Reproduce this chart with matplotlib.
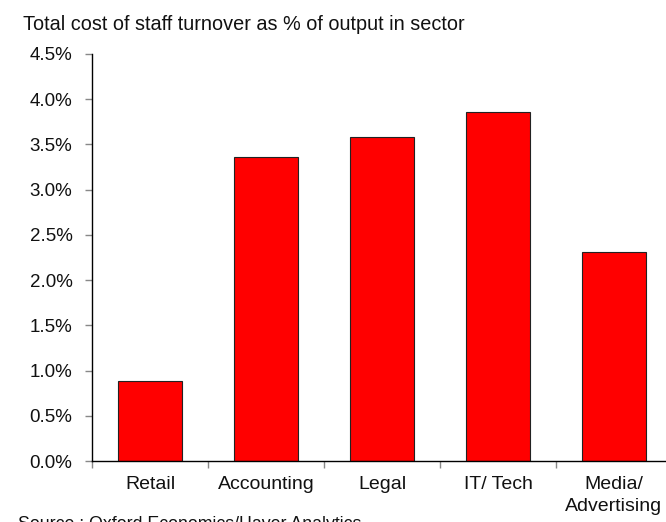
import matplotlib
matplotlib.use("Agg")
import matplotlib.pyplot as plt
import numpy as np
from matplotlib.ticker import FixedLocator, FuncFormatter

plt.rcParams["font.family"] = ["Liberation Sans", "DejaVu Sans"]

# Sector data: cost of staff turnover as % of sector output
sectors = ["Retail", "Accounting", "Legal", "IT/ Tech", "Media/\nAdvertising"]
turnover_cost_pct = [0.88, 3.36, 3.58, 3.86, 2.31]
y_ticks = [0.0, 0.5, 1.0, 1.5, 2.0, 2.5, 3.0, 3.5, 4.0, 4.5]

W, H = 666, 522
fig = plt.figure(figsize=(W / 100, H / 100), dpi=100)
ax = fig.add_axes([92 / W, 61 / H, 580 / W, 407 / H])

x = np.arange(len(sectors))
ax.bar(x, turnover_cost_pct, width=0.56, color="#ff0000",
       edgecolor="#222222", linewidth=0.8, zorder=2)

ax.set_xlim(-0.5, len(sectors) - 0.5)
ax.set_ylim(0, 4.5)

ax.yaxis.set_major_locator(FixedLocator(y_ticks))
ax.yaxis.set_major_formatter(FuncFormatter(lambda v, _: f"{v:.1f}%"))

ax.set_xticks(x)
ax.set_xticklabels(sectors, linespacing=1.35)
ax.set_xticks(np.arange(-0.5, len(sectors) + 0.5, 1.0), minor=True)

ax.tick_params(axis="y", which="major", length=5, width=1, color="#888888",
               pad=9, labelsize=13.5, labelcolor="#111111")
ax.tick_params(axis="x", which="major", length=0, pad=11,
               labelsize=14, labelcolor="#111111")
ax.tick_params(axis="x", which="minor", length=5, width=1, color="#888888")

for side in ("top", "right"):
    ax.spines[side].set_visible(False)
for side in ("left", "bottom"):
    ax.spines[side].set_color("#000000")
    ax.spines[side].set_linewidth(1.0)

fig.text(23 / W, 1 - 30 / H, "Total cost of staff turnover as % of output in sector",
         fontsize=14.3, color="#111111", ha="left", va="baseline")
fig.text(18 / W, 1 - 529 / H, "Source : Oxford Economics/Haver Analytics",
         fontsize=12.8, color="#111111", ha="left", va="baseline")

fig.savefig("out.png", dpi=100)
